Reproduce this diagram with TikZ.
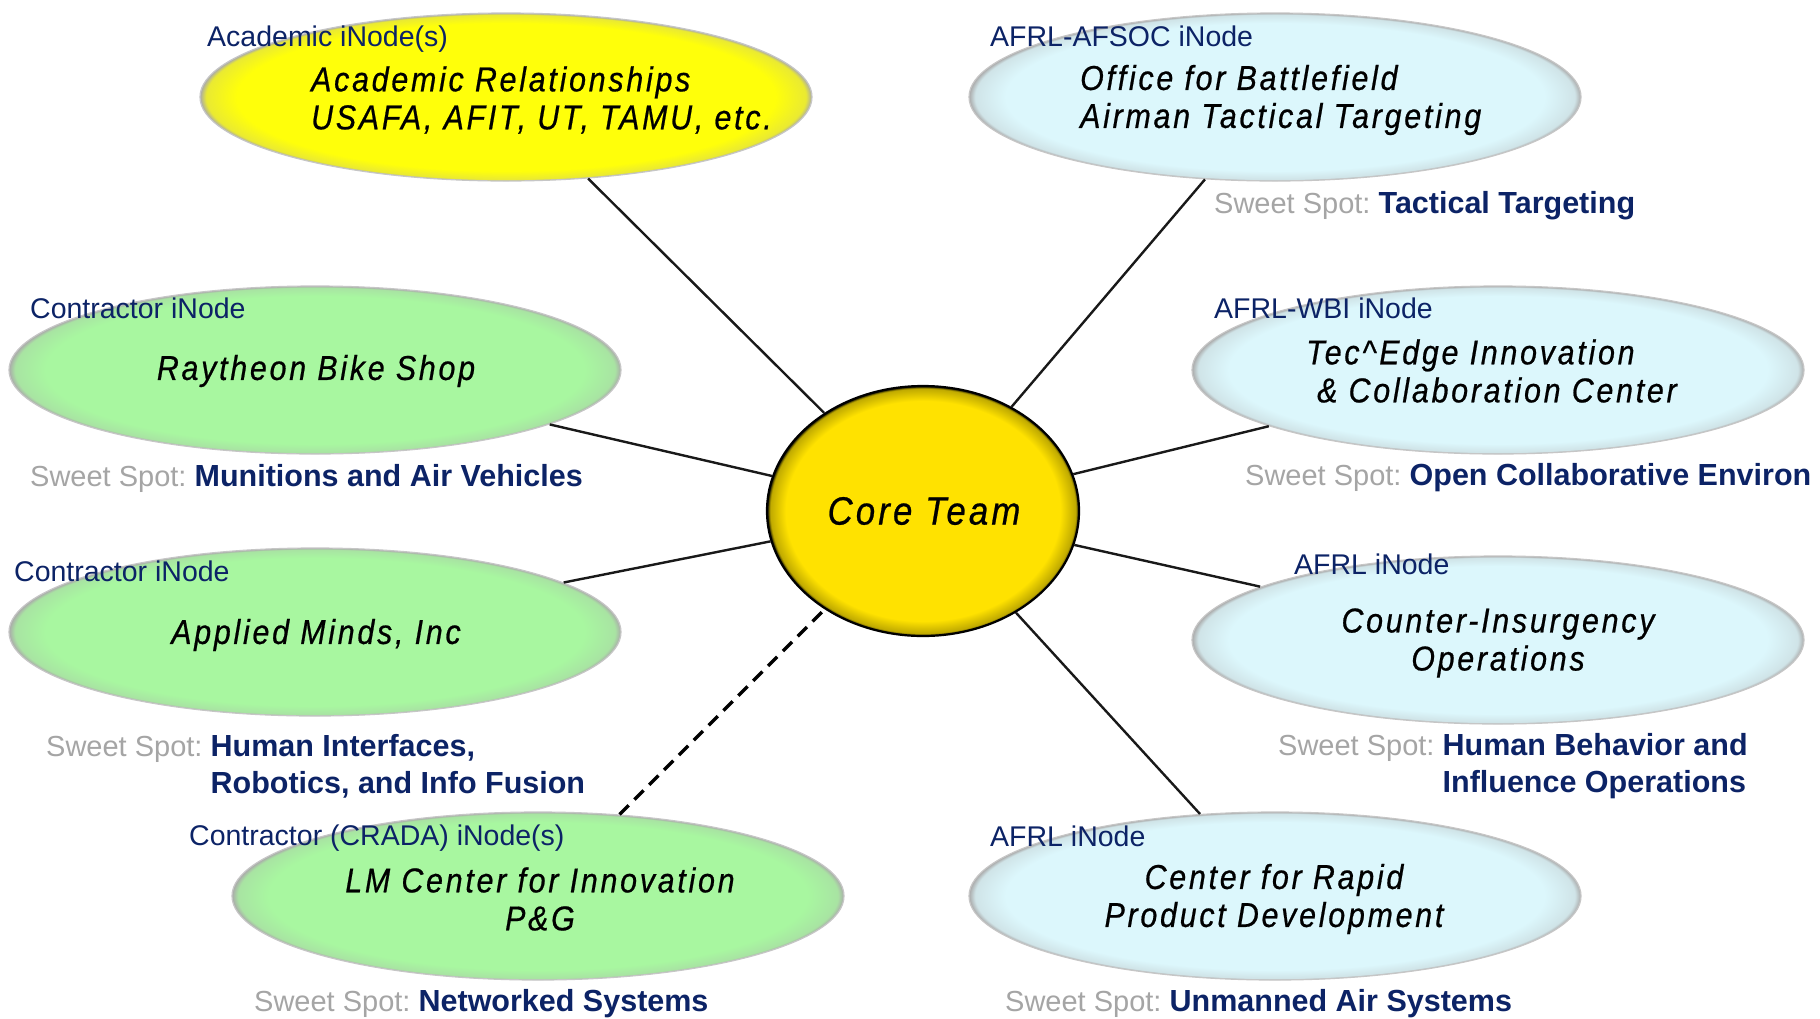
\documentclass[tikz,border=0pt]{standalone}
\usepackage{fontspec}
\setmainfont{Liberation Sans}
\newfontfamily\ellfont{Liberation Sans}[LetterSpace=8,FakeStretch=0.88,FakeBold=0.6]
\usetikzlibrary{shapes.geometric}
\definecolor{navy}{RGB}{12,35,102}
\definecolor{ssgrey}{RGB}{165,165,165}
\definecolor{acyel}{RGB}{255,255,10}
\definecolor{grn}{RGB}{168,247,160}
\definecolor{lblue}{RGB}{220,247,252}
\definecolor{coreyel}{RGB}{255,226,0}
\definecolor{rim}{RGB}{170,170,170}
\colorlet{acrim}{acyel!75!rim}
\colorlet{grnrim}{grn!75!rim}
\colorlet{lbluerim}{lblue!75!rim}
\colorlet{corerim}{coreyel!75!black}
\pgfdeclareradialshading{acshade}{\pgfpoint{0bp}{0bp}}{color(0bp)=(acyel); color(22bp)=(acyel); color(24.5bp)=(acrim); color(25bp)=(rim); color(50bp)=(rim)}
\pgfdeclareradialshading{grnshade}{\pgfpoint{0bp}{0bp}}{color(0bp)=(grn); color(22bp)=(grn); color(24.5bp)=(grnrim); color(25bp)=(rim); color(50bp)=(rim)}
\pgfdeclareradialshading{lblueshade}{\pgfpoint{0bp}{0bp}}{color(0bp)=(lblue); color(22bp)=(lblue); color(24.5bp)=(lbluerim); color(25bp)=(rim); color(50bp)=(rim)}
\pgfdeclareradialshading{coreshade}{\pgfpoint{0bp}{0bp}}{color(0bp)=(coreyel); color(22bp)=(coreyel); color(24.5bp)=(corerim); color(25bp)=(black); color(50bp)=(black)}
\tikzset{
  inode/.style={ellipse, minimum width=612pt, minimum height=168pt, inner sep=0pt,
    draw=gray!45, line width=1.2pt, shade},
  acnode/.style={inode, shading=acshade},
  grnnode/.style={inode, shading=grnshade},
  bluenode/.style={inode, shading=lblueshade},
  corenode/.style={ellipse, minimum width=312pt, minimum height=250pt, inner sep=0pt,
    draw=black, line width=2.2pt, shade, shading=coreshade},
  etext/.style={font=\ellfont\itshape\fontsize{34.5}{38}\selectfont, inner sep=0pt},
  lbl/.style={font=\fontsize{28.5}{34}\selectfont, text=navy, anchor=west, inner sep=0pt},
  sweet/.style={font=\fontsize{30.5}{37}\selectfont, anchor=west, inner sep=0pt, align=left},
  link/.style={draw=black!90, line width=2.4pt},
  dlink/.style={draw=black, line width=3.5pt, dash pattern=on 13pt off 8pt}
}
\newcommand{\ssp}{{\fontsize{29}{37}\selectfont\color{ssgrey}Sweet Spot:\ }}
\newcommand{\ssph}{\hphantom{\ssp}}
\begin{document}
\begin{tikzpicture}[x=1pt,y=-1pt]
\useasboundingbox (0,0) rectangle (1820,1018);
\fill[white] (0,0) rectangle (1820,1018);

% ellipses
\node[acnode]   (acad)  at (506,97)   {};
\node[bluenode] (afsoc) at (1275,97)  {};
\node[grnnode]  (ray)   at (315,370)  {};
\node[bluenode] (wbi)   at (1498,370) {};
\node[grnnode]  (amind) at (315,632)  {};
\node[bluenode] (coin)  at (1498,640) {};
\node[grnnode]  (lm)    at (538,896)  {};
\node[bluenode] (crpd)  at (1275,896) {};
\node[corenode] (core)  at (923,511)  {};

% connectors
\draw[link] (acad) -- (core);
\draw[link] (afsoc) -- (core);
\draw[link] (ray) -- (core);
\draw[link] (wbi) -- (core);
\draw[link] (amind) -- (core);
\draw[link] (coin) -- (core);
\draw[link] (crpd) -- (core);
\draw[dlink] (lm) -- (core);

% ellipse texts
\node[etext, anchor=west, align=left] (acadt) at (311,100) {Academic Relationships\\USAFA, AFIT, UT, TAMU, etc.};
\node[etext, anchor=west, align=left] (afsoct) at (1080,100) {Office for Battlefield\\Airman Tactical Targeting};
\node[etext] (rayt) at (316,371) {Raytheon Bike Shop};
\node[etext, anchor=west, align=left] (wbit) at (1306,371) {Tec\textasciicircum Edge Innovation\\\hspace*{11pt}\& Collaboration Center};
\node[etext] (amindt) at (316,635) {Applied Minds, Inc};
\node[etext, align=center] (coint) at (1498,643) {Counter-Insurgency\\Operations};
\node[etext, align=center] (lmt) at (540,899) {LM Center for Innovation\\P\&G};
\node[etext, align=center] (crpdt) at (1274,899) {Center for Rapid\\Product Development};
\node[etext, font=\ellfont\itshape\fontsize{39.5}{44}\selectfont] (coret) at (924,511) {Core Team};

% top labels
\node[lbl] (acadl)  at (207,39)  {Academic iNode(s)};
\node[lbl] (afsocl) at (990,36)  {AFRL-AFSOC iNode};
\node[lbl] (rayl)   at (30,308)  {Contractor iNode};
\node[lbl] (wbil)   at (1214,308) {AFRL-WBI iNode};
\node[lbl] (amindl) at (14,571)  {Contractor iNode};
\node[lbl] (coinl)  at (1294,564) {AFRL iNode};
\node[lbl] (lml)    at (189,838) {Contractor (CRADA) iNode(s)};
\node[lbl] (crpdl)  at (990,836) {AFRL iNode};

% sweet spots
\node[sweet] (afsocs) at (1214,206) {\ssp{\color{navy}\bfseries Tactical Targeting}};
\node[sweet] (rays)   at (30,478)   {\ssp{\color{navy}\bfseries Munitions and Air Vehicles}};
\node[sweet] (wbis)   at (1245,478) {\ssp{\color{navy}\bfseries Open Collaborative Environ}};
\node[sweet] (minds)  at (46,766)   {\ssp{\color{navy}\bfseries Human Interfaces,}\\\ssph{\color{navy}\bfseries Robotics, and Info Fusion}};
\node[sweet] (coins)  at (1278,766) {\ssp{\color{navy}\bfseries Human Behavior and}\\\ssph{\color{navy}\bfseries Influence Operations}};
\node[sweet] (lms)    at (254,1004) {\ssp{\color{navy}\bfseries Networked Systems}};
\node[sweet] (crpds)  at (1005,1004) {\ssp{\color{navy}\bfseries Unmanned Air Systems}};
\end{tikzpicture}
\end{document}
